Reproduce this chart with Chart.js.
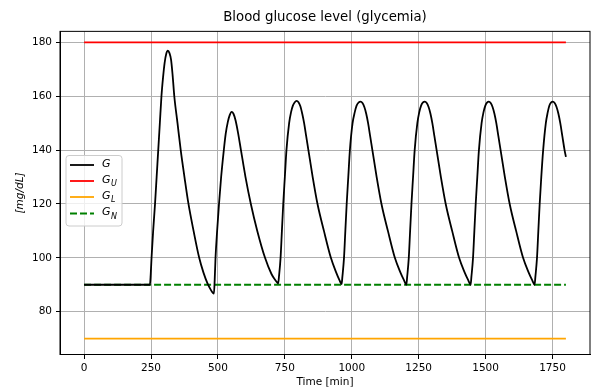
<!DOCTYPE html>
<html>
<head>
<meta charset="utf-8">
<script src="https://cdn.jsdelivr.net/npm/chart.js@4/dist/chart.umd.min.js"></script>
<style>
  html, body { margin: 0; padding: 0; background: #fff; }
  #wrap { width: 597px; height: 390px; }
</style>
</head>
<body>
<div id="wrap"><canvas id="c" width="597" height="390"></canvas></div>
<script>
// ---- data ----
const timeG = [0, 100, 200, 246,
  249, 252, 258, 265, 271, 277, 283, 289, 295, 301, 307, 313,
  319, 325, 331, 337, 349, 361, 375, 390, 409, 430, 446, 461, 474, 481, 485,
  488, 491, 497, 504, 512, 522, 529, 537, 544, 551,
  558, 566, 575, 586, 603, 623, 647, 676, 700, 714, 721, 725,
  728, 734, 739, 744, 750, 756, 766, 773, 780, 787, 794,
  801, 808, 815, 822, 830, 838, 854, 872, 896, 922, 942, 954, 962,
  965, 971, 976, 981, 987, 993, 1003, 1011, 1018, 1026, 1033,
  1040, 1047, 1054, 1061, 1069, 1077, 1093, 1111, 1135, 1161, 1182, 1195, 1204,
  1207, 1213, 1218, 1223, 1229, 1235, 1245, 1252, 1259, 1266, 1273,
  1280, 1287, 1294, 1301, 1309, 1317, 1333, 1351, 1375, 1401, 1422, 1435, 1444,
  1447, 1453, 1458, 1463, 1469, 1475, 1485, 1492, 1499, 1506, 1512,
  1519, 1526, 1533, 1540, 1548, 1556, 1572, 1590, 1614, 1640, 1661, 1674, 1683,
  1686, 1692, 1697, 1702, 1708, 1715, 1725, 1732, 1738, 1745, 1751,
  1758, 1765, 1772, 1779, 1787, 1795, 1800];
const glucoseG = [90, 90, 90, 90,
  94, 100, 110, 120, 130, 140, 150, 160, 167, 172.5, 175.8, 176.9,
  176, 173.5, 167.5, 160, 150, 140, 130, 120, 110, 100, 94.5, 90.5, 88, 87, 86.7,
  92, 100, 110, 120, 130, 140, 146, 150.5, 153, 154.2,
  153.5, 151, 146.5, 140, 130, 120, 110, 100, 94, 91.8, 90.9, 90.5,
  93, 100, 110, 120, 130, 140, 150, 154, 156.5, 157.8, 158.3,
  157.8, 156.3, 153.5, 150, 145, 140, 130, 120, 110, 100, 94.5, 91.7, 90.2,
  93, 100, 110, 120, 130, 140, 150, 154, 156.5, 157.7, 158,
  157.5, 156, 153.5, 150, 145, 140, 130, 120, 110, 100, 94.5, 91.7, 90,
  93, 100, 110, 120, 130, 140, 150, 154, 156.5, 157.7, 158,
  157.5, 156, 153.5, 150, 145, 140, 130, 120, 110, 100, 94.5, 91.7, 90,
  93, 100, 110, 120, 130, 140, 150, 154, 156.5, 157.7, 158,
  157.5, 156, 153.5, 150, 145, 140, 130, 120, 110, 100, 94.5, 91.7, 90,
  93, 100, 110, 120, 130, 140, 150, 154, 156.5, 157.7, 158,
  157.5, 156, 153.5, 150, 145, 140, 137.5];
const limitTimes = [0, 1800];
const upperLimit = [180, 180];   // G_U
const lowerLimit = [70, 70];     // G_L
const normalLevel = [90, 90];    // G_N
const xTicks = [0, 250, 500, 750, 1000, 1250, 1500, 1750];
const yTicks = [80, 100, 120, 140, 160, 180];
const seriesLabels = ['G', 'G_U', 'G_L', 'G_N'];

const toPts = (xs, ys) => xs.map((x, i) => ({ x: x, y: ys[i] }));
const FONT = "'DejaVu Sans', sans-serif";

const framePlugin = {
  id: 'frame',
  afterDatasetsDraw(chart) {
    const a = chart.chartArea, ctx = chart.ctx;
    ctx.save();
    ctx.strokeStyle = '#000';
    ctx.lineWidth = 1;
    ctx.strokeRect(a.left, a.top, a.right - a.left, a.bottom - a.top);
    ctx.restore();
  }
};

const legendPlugin = {
  id: 'mplLegend',
  afterDraw(chart) {
    const ctx = chart.ctx;
    const x0 = 66, y0 = 155.5, w = 56, h = 70.5, r = 3;
    ctx.save();
    ctx.beginPath();
    ctx.moveTo(x0 + r, y0);
    ctx.arcTo(x0 + w, y0, x0 + w, y0 + h, r);
    ctx.arcTo(x0 + w, y0 + h, x0, y0 + h, r);
    ctx.arcTo(x0, y0 + h, x0, y0, r);
    ctx.arcTo(x0, y0, x0 + w, y0, r);
    ctx.closePath();
    ctx.fillStyle = 'rgba(255,255,255,0.8)';
    ctx.fill();
    ctx.strokeStyle = '#cccccc';
    ctx.lineWidth = 1;
    ctx.stroke();
    const rows = [165, 181, 197, 213.5];
    chart.data.datasets.forEach((ds, i) => {
      const y = rows[i];
      ctx.beginPath();
      ctx.setLineDash(ds.borderDash || []);
      ctx.strokeStyle = ds.borderColor;
      ctx.lineWidth = ds.borderWidth;
      ctx.moveTo(70, y);
      ctx.lineTo(94, y);
      ctx.stroke();
      ctx.setLineDash([]);
      const parts = ds.label.split('_');
      ctx.fillStyle = '#000';
      ctx.textBaseline = 'middle';
      ctx.textAlign = 'left';
      ctx.font = 'italic 11px ' + FONT;
      ctx.fillText(parts[0], 102, y - 1);
      if (parts[1]) {
        const wG = ctx.measureText(parts[0]).width;
        ctx.font = 'italic 8px ' + FONT;
        ctx.fillText(parts[1], 102 + wG + 0.5, y + 3);
      }
    });
    ctx.restore();
  }
};

Chart.defaults.color = '#000';
Chart.defaults.font.family = FONT;

new Chart(document.getElementById('c'), {
  type: 'line',
  data: {
    datasets: [
      { label: seriesLabels[0], data: toPts(timeG, glucoseG), borderColor: '#000000', borderWidth: 1.8,
        cubicInterpolationMode: 'monotone', pointRadius: 0, fill: false },
      { label: seriesLabels[1], data: toPts(limitTimes, upperLimit), borderColor: '#ff0000', borderWidth: 1.8,
        pointRadius: 0, fill: false },
      { label: seriesLabels[2], data: toPts(limitTimes, lowerLimit), borderColor: '#ffa500', borderWidth: 1.8,
        pointRadius: 0, fill: false },
      { label: seriesLabels[3], data: toPts(limitTimes, normalLevel), borderColor: '#008000', borderWidth: 1.8,
        borderDash: [7, 3], pointRadius: 0, fill: false }
    ]
  },
  options: {
    responsive: false,
    devicePixelRatio: 1,
    animation: false,
    layout: { padding: { left: 0, right: 7, top: 0, bottom: 0 } },
    plugins: {
      legend: { display: false },
      tooltip: { enabled: false },
      title: {
        display: true, text: 'Blood glucose level (glycemia)', fullSize: false,
        color: '#000', font: { size: 13.3, weight: 'normal', family: FONT },
        padding: { top: 10, bottom: 5.4 }
      }
    },
    scales: {
      x: {
        type: 'linear', min: -90, max: 1890,
        afterBuildTicks: s => { s.ticks = xTicks.map(v => ({ value: v })); },
        afterFit: s => { s.height = 35.5; },
        ticks: { callback: v => String(v), font: { size: 10.5 }, color: '#000', padding: 3,
                 maxRotation: 0, autoSkip: false },
        grid: { color: '#b0b0b0', lineWidth: 1, tickColor: '#000', tickLength: 4.5 },
        border: { display: true, color: '#000', width: 1 },
        title: { display: true, text: 'Time [min]', color: '#000', font: { size: 10.5 },
                 padding: { top: 0, bottom: 1.8 } }
      },
      y: {
        type: 'linear', min: 64.1, max: 184.1,
        afterBuildTicks: s => { s.ticks = yTicks.map(v => ({ value: v })); },
        afterFit: s => { s.width = 60; },
        ticks: { callback: v => String(v), font: { size: 10.5 }, color: '#000', padding: 4, autoSkip: false },
        grid: { color: '#b0b0b0', lineWidth: 1, tickColor: '#000', tickLength: 4 },
        border: { display: true, color: '#000', width: 1 },
        title: { display: true, text: '[mg/dL]', color: '#000', font: { size: 10.5, style: 'italic' },
                 padding: { top: 13.5, bottom: 0 } }
      }
    }
  },
  plugins: [framePlugin, legendPlugin]
});
</script>
</body>
</html>
